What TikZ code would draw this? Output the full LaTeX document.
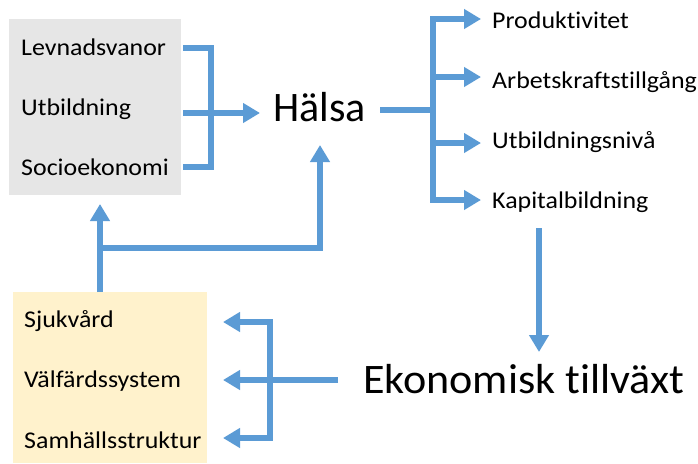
\documentclass[tikz,border=0pt]{standalone}
\usepackage{fontspec}
\setmainfont[Ligatures=NoCommon]{Carlito}
\newfontfamily\smallfont[Ligatures=NoCommon,FakeStretch=1.08]{Carlito}
\newfontfamily\ekfont[Ligatures=NoCommon,FakeStretch=1.05]{Carlito}
\usetikzlibrary{arrows.meta}
\definecolor{lineblue}{HTML}{5B9BD5}
\definecolor{greybg}{HTML}{E6E6E6}
\definecolor{yellowbg}{HTML}{FFF2CC}
\begin{document}
\begin{tikzpicture}[x=1pt,y=-1pt,
  conn/.style={draw=lineblue, line width=5.5pt},
  arr/.style={conn, -{Triangle[length=17pt,width=19pt]}},
  small/.style={font=\smallfont\fontsize{24}{28}\selectfont, inner sep=0pt, anchor=base west},
  big/.style={font=\fontsize{42}{48}\selectfont, inner sep=0pt, anchor=base west},
  panel/.style={inner sep=0pt, anchor=north west, draw=none}]
\useasboundingbox (0,0) rectangle (698,463);
% background panels
\node[panel, fill=greybg, minimum width=172pt, minimum height=176pt] (grey) at (9,19) {};
\node[panel, fill=yellowbg, minimum width=194pt, minimum height=171pt] (yellow) at (13,292) {};
% texts
\node[small] (lev) at (21,55) {Levnadsvanor};
\node[small] (utb) at (21,115) {Utbildning};
\node[small] (soc) at (21,175) {Socioekonomi};
\node[big] (halsa) at (273,121) {Hälsa};
\node[small] (prod) at (492,28) {Produktivitet};
\node[small] (arb) at (492,88) {Arbetskraftstillgång};
\node[small] (utbn) at (492,148) {Utbildningsnivå};
\node[small] (kap) at (492,208) {Kapitalbildning};
\node[big, font=\ekfont\fontsize{42}{48}\selectfont] (ek) at (363,393) {Ekonomisk tillväxt};
\node[small] (sjuk) at (24,327) {Sjukvård};
\node[small] (valf) at (24,387) {Välfärdssystem};
\node[small] (samh) at (24,448) {Samhällsstruktur};
% junction coordinates
\coordinate (l1) at (183,48);
\coordinate (l2) at (183,113);
\coordinate (l3) at (183,167);
\coordinate (b1) at (211,48);
\coordinate (b3) at (211,167);
\coordinate (ht) at (260,113);
\coordinate (h0) at (380,110);
\coordinate (hj) at (433,110);
\coordinate (t1) at (481,19);
\coordinate (t2) at (481,77);
\coordinate (t3) at (481,143);
\coordinate (t4) at (481,200);
\coordinate (d0) at (539,228);
\coordinate (d1) at (539,352);
\coordinate (e0) at (338,380);
\coordinate (ej) at (270,380);
\coordinate (s1) at (223,322);
\coordinate (s2) at (223,380);
\coordinate (s3) at (223,438);
\coordinate (y0) at (100,292);
\coordinate (y1) at (100,204);
\coordinate (yj) at (100,248);
\coordinate (hu) at (320,145);
% connectors
\draw[conn] (l1) -- (b1) -- (b3) -- (l3);
\draw[arr] (l2) -- (ht);
\draw[conn] (h0) -- (hj);
\draw[arr] (hj) |- (t1);
\draw[arr] (hj |- t2) -- (t2);
\draw[arr] (hj |- t3) -- (t3);
\draw[arr] (hj) |- (t4);
\draw[arr] (d0) -- (d1);
\draw[arr] (e0) -- (s2);
\draw[arr] (ej) |- (s1);
\draw[arr] (ej) |- (s3);
\draw[arr] (y0) -- (y1);
\draw[arr] (yj) -| (hu);
\end{tikzpicture}
\end{document}
